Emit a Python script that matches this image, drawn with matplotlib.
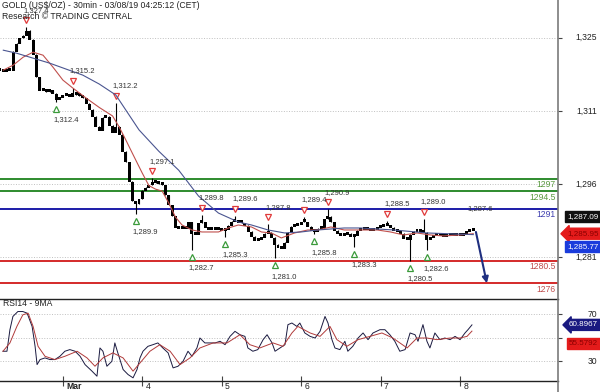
import numpy as np
import matplotlib.pyplot as plt
from matplotlib.transforms import offset_copy, blended_transform_factory
from matplotlib.lines import Line2D

plt.rcParams['font.family'] = ['Liberation Sans', 'DejaVu Sans']

# hourly closes, index 0 = Feb 28 ~04:00
close = [1318.8, 1318.6, 1318.9, 1318.8, 1322.6, 1324.2, 1325.3, 1325.9, 1326.8, 1325.0,
         1322.0, 1317.5, 1314.8, 1315.0, 1314.5, 1314.9, 1314.2, 1313.0, 1313.4, 1313.8,
         1314.0, 1313.6, 1314.3, 1313.9, 1313.7, 1313.3, 1312.2, 1311.0, 1309.6, 1307.6,
         1306.8, 1309.4, 1309.5, 1307.8, 1306.3, 1307.6, 1306.0, 1302.6, 1300.4, 1296.5,
         1292.6, 1292.0, 1293.0, 1294.7, 1295.3, 1295.8, 1296.3, 1296.2, 1296.0, 1295.8,
         1293.8, 1291.8, 1289.6, 1287.3, 1287.0, 1287.3, 1287.0, 1288.4, 1286.0, 1285.9,
         1288.2, 1288.4, 1287.2, 1286.8, 1287.2, 1286.9, 1287.1, 1286.6, 1286.9, 1287.7,
         1288.5, 1288.6, 1288.3, 1288.2, 1287.6, 1286.4, 1285.4, 1284.7, 1284.9, 1285.3,
         1286.0, 1286.3, 1285.2, 1283.8, 1283.2, 1283.0, 1284.2, 1286.2, 1287.5, 1287.7,
         1287.8, 1288.4, 1288.4, 1287.4, 1286.7, 1286.4, 1287.1, 1287.3, 1289.0, 1289.5,
         1288.4, 1286.6, 1286.0, 1285.7, 1285.9, 1286.1, 1285.4, 1285.6, 1286.7, 1286.9,
         1287.1, 1286.9, 1286.7, 1286.9, 1287.2, 1287.4, 1287.6, 1287.7, 1287.2, 1286.7,
         1286.4, 1286.1, 1285.1, 1284.8, 1285.9, 1286.4, 1286.7, 1286.5, 1286.3, 1284.9,
         1285.2, 1285.7, 1285.6, 1285.7, 1285.5, 1285.8, 1285.6, 1285.7, 1285.8, 1285.7,
         1286.0, 1286.4, 1286.7, 1287.09]

# marked swing highs / lows
high_h = [8, 22, 35, 46, 61, 71, 81, 92, 99, 117, 128]
high_v = [1327.4, 1315.2, 1312.2, 1297.1, 1289.8, 1289.6, 1287.8, 1289.4, 1290.9, 1288.5, 1289.0]
low_h = [17, 41, 58, 68, 83, 95, 107, 124, 129]
low_v = [1312.4, 1289.9, 1282.7, 1285.3, 1281.0, 1285.8, 1283.3, 1280.5, 1282.6]

# moving averages
red_h = [1, 4, 7, 10, 13, 16, 19, 22, 26, 30, 34, 36, 38, 40, 43, 45, 47, 49, 51, 53,
         55, 58, 61, 66, 69, 72, 76, 79, 82, 85, 89, 93, 96, 100, 104, 109, 114, 118, 122, 126,
         130, 134, 139, 143]
red_v = [1318.8, 1319.8, 1321.4, 1322.4, 1321.8, 1319.4, 1316.8, 1315.2, 1313.2, 1311.3,
         1309.6, 1307.4, 1304.8, 1302.1, 1298.1, 1295.6, 1294.9, 1294.5, 1292.1, 1289.3,
         1287.7, 1286.7, 1286.3, 1286.3, 1287.1, 1287.7, 1287.3, 1286.3, 1286.1, 1285.1,
         1286.1, 1286.7, 1286.7, 1287.3, 1286.7, 1286.7, 1286.7, 1286.3, 1285.7, 1286.1,
         1285.7, 1285.5, 1285.7, 1285.95]
blue_h = [1, 5, 10, 15, 20, 25, 30, 35, 42, 48, 54, 60, 66, 72, 76, 81, 86, 91, 96, 104,
          109, 119, 129, 143]
blue_v = [1322.8, 1322.2, 1321.2, 1320.2, 1319.0, 1317.8, 1316.0, 1313.8, 1306.8, 1302.5,
          1298.7, 1293.5, 1290.1, 1288.3, 1287.7, 1286.7, 1286.1, 1286.3, 1286.7, 1287.1,
          1287.1, 1286.7, 1286.1, 1285.77]

# support / resistance levels
levels = [1297, 1294.5, 1291, 1280.5, 1276]
level_names = ['1297', '1294.5', '1291', '1280.5', '1276']
level_colors = ['#2e8b2e', '#2e8b2e', '#1c1ca8', '#d42a2a', '#d42a2a']
level_text_colors = ['#5a9a40', '#5a9a40', '#4040b0', '#c05050', '#c05050']

price_ticks = [1325.3, 1310.6, 1295.9, 1281.2]
price_tick_labels = ['1,325', '1,311', '1,296', '1,281']

# RSI 14 and its 9MA
rsi_h = [0.9, 2.1, 3, 3.9, 5.4, 6.9, 8.2, 9.7, 10.6, 11.2,
         12.1, 13.6, 15.1, 16.6, 18.1, 19.6, 21.1, 22.7, 24.2, 25.7,
         27.8, 29.3, 30.2, 31.1, 32.3, 33.8, 34.7, 35.6, 37.2, 38.7,
         40.2, 41.4, 42.3, 43.2, 44.7, 46.2, 47.7, 49.2, 50.8, 52.3,
         53.8, 55.3, 56.8, 58, 59.5, 60.4, 61.9, 63.4, 65, 66.5,
         68, 69.5, 71, 72.5, 74, 74.9, 76.4, 77.9, 79.5, 80.7,
         82.2, 83.1, 84.6, 86.1, 87, 88.2, 89.7, 90.6, 92.1, 93.7,
         95.2, 96.7, 98.2, 99.1, 100.3, 101.2, 102.7, 104.2, 105.1, 106.6,
         108.2, 109.7, 111.2, 112.7, 114.8, 116.3, 117.8, 119.3, 120.8, 122.4,
         123.9, 125.4, 126.3, 127.8, 129, 129.9, 131.4, 132.9, 134.4, 136,
         137.5, 139, 140.5, 141.4, 142.6]
rsi_v = [38.4, 38.4, 56.8, 68.1, 72.3, 72.3, 70.9, 59.6, 42.6, 27.0,
         31.3, 32.7, 31.3, 31.3, 34.1, 38.4, 39.8, 38.4, 34.1, 27.0,
         21.4, 17.1, 41.2, 38.4, 25.6, 29.8, 45.5, 37.0, 22.8, 18.5,
         15.7, 22.8, 32.7, 38.4, 42.6, 44.0, 45.5, 41.2, 37.0, 24.2,
         25.6, 29.8, 38.4, 34.1, 41.2, 49.7, 45.5, 45.5, 45.5, 46.9,
         44.0, 51.1, 55.4, 52.5, 51.1, 41.2, 38.4, 39.8, 48.3, 52.5,
         45.5, 38.4, 41.2, 44.0, 61.1, 62.5, 59.6, 62.5, 54.0, 51.1,
         49.7, 55.4, 68.1, 62.5, 48.3, 41.2, 39.8, 46.9, 38.4, 42.6,
         49.7, 54.0, 48.3, 54.0, 56.8, 56.8, 52.5, 46.9, 38.4, 39.8,
         54.0, 52.5, 46.9, 61.1, 46.9, 41.2, 54.0, 48.3, 49.7, 48.3,
         51.1, 48.3, 54.0, 56.8, 60.9]
rma_h = [0.9, 3, 5.1, 6.9, 8.5, 10, 11.5, 13.6, 16.6, 19.6,
         23.3, 26.3, 28.7, 31.1, 34.1, 37.2, 40.2, 42.3, 45.3, 48.3,
         51.4, 54.4, 57.4, 60.4, 64.4, 68.6, 72.5, 75.5, 78.5, 82.5,
         85.5, 88.2, 90, 93.7, 96.7, 99.7, 101.8, 104.8, 108.2, 111.8,
         115.4, 118.7, 123, 126, 129, 132, 136, 139, 141.1, 142.6]
rma_v = [38.4, 45.5, 59.6, 69.5, 70.9, 59.6, 42.6, 34.1, 31.3, 34.1,
         38.4, 32.7, 25.6, 32.7, 37.0, 32.7, 21.4, 28.4, 38.4, 44.0,
         38.4, 27.0, 32.7, 41.2, 45.5, 45.5, 52.5, 44.0, 41.2, 45.5,
         42.6, 54.0, 59.6, 54.0, 51.1, 59.6, 48.3, 42.6, 48.3, 51.1,
         54.0, 49.7, 41.2, 49.7, 49.7, 48.3, 49.7, 49.7, 51.1, 55.6]

day_h = [19, 43, 67, 91, 115, 139]
day_labels = ['Mar', '4', '5', '6', '7', '8']

fig = plt.figure(figsize=(6, 3.92), dpi=100)
ax = fig.add_axes([0, 93/392, 558/600, 299/392])
ax2 = fig.add_axes([0, 11/392, 558/600, 82/392], sharex=ax)

# candles: open = previous close
c = np.array(close)
o = np.concatenate([[c[0]], c[:-1]])
hours = np.arange(len(c))
hi = np.maximum(o, c)
lo = np.minimum(o, c)
for h, v in zip(high_h, high_v):
    hi[h] = max(hi[h], v)
for h, v in zip(low_h, low_v):
    lo[h] = min(lo[h], v)
body_lo = np.minimum(o, c)
body_ht = np.maximum(np.abs(c - o), 0.6)

for lv, col in zip(levels, level_colors):
    ax.axhline(lv, color=col, lw=1.4, zorder=2)

ax.vlines(hours, lo, hi, colors='black', lw=0.8, zorder=4)
ax.bar(hours, body_ht, bottom=body_lo - 0.15, width=0.9, color='black', lw=0, zorder=4)
ax.plot(red_h, red_v, color='#c0504d', lw=0.8, zorder=5)
ax.plot(blue_h, blue_v, color='#4a5590', lw=0.8, zorder=5)

# swing markers
up_tri = offset_copy(ax.transData, fig=fig, x=0, y=7, units='dots')
up_txt = offset_copy(ax.transData, fig=fig, x=-3, y=17, units='dots')
dn_tri = offset_copy(ax.transData, fig=fig, x=0, y=-7, units='dots')
dn_txt = offset_copy(ax.transData, fig=fig, x=-3, y=-18, units='dots')
for h, v in zip(high_h, high_v):
    ax.plot(h, v, marker='v', ms=5, mfc='white', mec='#e03a3a', mew=0.9, transform=up_tri, zorder=3)
    ax.text(h, v, f'{v:,.1f}', transform=up_txt, ha='left', va='center', fontsize=5.5, color='#333333', zorder=6)
for h, v in zip(low_h, low_v):
    ax.plot(h, v, marker='^', ms=5, mfc='white', mec='#3a9a3a', mew=0.9, transform=dn_tri, zorder=3)
    ax.text(h, v, f'{v:,.1f}', transform=dn_txt, ha='left', va='center', fontsize=5.5, color='#333333', zorder=6)
ax.text(142.3, 1287.6, '1,287.6', transform=up_txt, ha='left', va='center', fontsize=5.5, color='#333333')

# projected move
ax.annotate('', xy=(147.1, 1276.0), xytext=(143.8, 1286.3),
            arrowprops=dict(arrowstyle='-|>', color='#1f2f80', lw=1.5, mutation_scale=9, shrinkA=0, shrinkB=0),
            zorder=7)

ax.set_xlim(0, 168.6)
ax.set_ylim(1272.84, 1332.88)
for s in ax.spines.values():
    s.set_visible(False)
ax.set_yticks(price_ticks)
ax.yaxis.tick_right()
ax.tick_params(axis='y', length=3, width=0.8, color='#444444', labelright=False)
ax.tick_params(axis='x', bottom=False, labelbottom=False)
ax.grid(axis='y', ls=':', color='#c0c0c0', lw=0.7)

ybl = blended_transform_factory(ax.transAxes, ax.transData)
for t, lab in zip(price_ticks, price_tick_labels):
    ax.text(597/558, t, lab, transform=ybl, ha='right', va='center', fontsize=6.2, color='#222222', clip_on=False)

below = offset_copy(ybl, fig=fig, x=0, y=-1.5, units='dots')
for lv, name, col in zip(levels, level_names, level_text_colors):
    ax.text(556/558, lv, name, transform=below, ha='right', va='top', fontsize=6.2, color=col)

# price boxes at the right
box_up = offset_copy(ybl, fig=fig, x=0, y=11.5, units='dots')
box_dn = offset_copy(ybl, fig=fig, x=0, y=-12, units='dots')
ax.text(567/558, close[-1], f'{close[-1]:,.2f}', transform=box_up, ha='left', va='center', fontsize=5.8,
        color='white', clip_on=False, bbox=dict(boxstyle='square,pad=0.25', fc='#111111', ec='#111111'))
ax.text(567/558, red_v[-1], f'{red_v[-1]:,.2f}', transform=ybl, ha='left', va='center', fontsize=5.8,
        color='#8a0000', clip_on=False, bbox=dict(boxstyle='larrow,pad=0.25', fc='#e41b1b', ec='#e41b1b'))
ax.text(567/558, blue_v[-1], f'{blue_v[-1]:,.2f}', transform=box_dn, ha='left', va='center', fontsize=5.8,
        color='white', clip_on=False, bbox=dict(boxstyle='square,pad=0.25', fc='#1a3cdc', ec='#1a3cdc'))

fig.text(2/600, 1 - 6/392, 'GOLD (US$/OZ) - 30min - 03/08/19 04:25:12 (CET)', ha='left', va='center',
         fontsize=6.2, color='#222222')
fig.text(2/600, 1 - 16.5/392, 'Research \u00a9 TRADING CENTRAL', ha='left', va='center',
         fontsize=6.2, color='#222222')

# RSI panel
ax2.plot(rsi_h, rsi_v, color='#1a1a40', lw=0.7)
ax2.plot(rma_h, rma_v, color='#b03a3a', lw=0.7)
ax2.set_ylim(13, 83)
for side in ['left', 'right']:
    ax2.spines[side].set_visible(False)
for side in ['top', 'bottom']:
    ax2.spines[side].set_color('#222222')
    ax2.spines[side].set_linewidth(1.0)
ax2.set_yticks([70, 50, 30])
ax2.yaxis.tick_right()
ax2.tick_params(axis='y', length=3, width=0.8, color='#444444', labelright=False)
ax2.grid(axis='y', ls=':', color='#c0c0c0', lw=0.7)
ax2.set_xticks(day_h)
ax2.tick_params(axis='x', direction='inout', length=7, width=0.8, color='#444444', labelbottom=False)
xbl = blended_transform_factory(ax2.transData, ax2.transAxes)
for h, lab in zip(day_h, day_labels):
    ax2.text(h + 1, -0.07, lab, transform=xbl, ha='left', va='center', fontsize=6.2, color='#222222',
             fontweight='bold' if lab == 'Mar' else 'normal', clip_on=False)
ybl2 = blended_transform_factory(ax2.transAxes, ax2.transData)
for t in [70, 30]:
    ax2.text(597/558, t, str(t), transform=ybl2, ha='right', va='center', fontsize=6.2, color='#222222', clip_on=False)
ax2.text(3/558, 0.94, 'RSI14 - 9MA', transform=ax2.transAxes, ha='left', va='center', fontsize=6.2, color='#222222')

rbox_dn = offset_copy(ybl2, fig=fig, x=0, y=-12, units='dots')
ax2.text(569/558, rsi_v[-1], '60.8967', transform=ybl2, ha='left', va='center', fontsize=5.8,
         color='white', clip_on=False, bbox=dict(boxstyle='larrow,pad=0.25', fc='#1a1a80', ec='#1a1a80'))
ax2.text(569/558, rma_v[-1], '55.5792', transform=rbox_dn, ha='left', va='center', fontsize=5.8,
         color='#8a0000', clip_on=False, bbox=dict(boxstyle='square,pad=0.25', fc='#e41b1b', ec='#e41b1b'))

fig.add_artist(Line2D([558/600, 558/600], [0, 1], color='#7a7a7a', lw=1.2, transform=fig.transFigure))

fig.savefig('out.png', dpi=100)
